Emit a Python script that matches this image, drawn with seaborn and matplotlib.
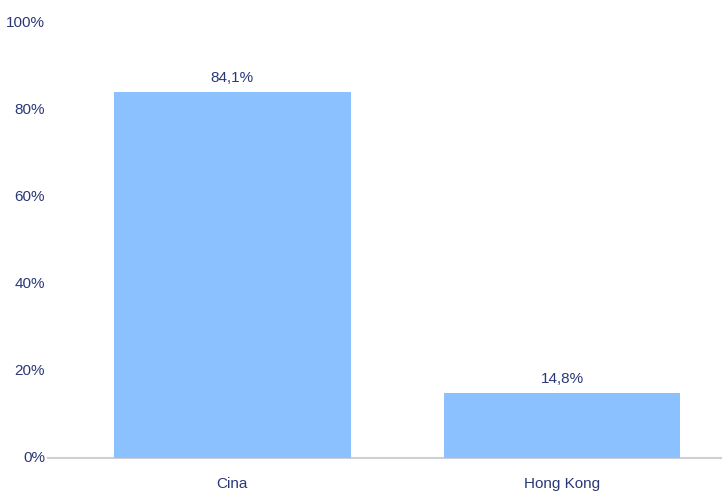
import matplotlib
matplotlib.use("Agg")
import matplotlib.pyplot as plt
import seaborn as sns
import pandas as pd

categories = ["Cina", "Hong Kong"]
values = [84.1, 14.8]
value_labels = ["84,1%", "14,8%"]
yticks = [0, 20, 40, 60, 80, 100]
ytick_labels = ["0%", "20%", "40%", "60%", "80%", "100%"]

sns.set_style("white")
plt.rcParams['font.family'] = ['Liberation Sans', 'DejaVu Sans']

text_color = "#2a3877"
bar_color = "#8cc1ff"

df = pd.DataFrame({"cat": categories, "val": values})

fig = plt.figure(figsize=(7.22, 4.93), dpi=100)
ax = fig.add_axes([48/722, 1-457.5/493, 1-48/722, (457.5-23)/493])

sns.barplot(data=df, x="cat", y="val", color=bar_color, saturation=1,
            width=0.718, ax=ax, edgecolor="none")

ax.set_xlim(-0.558, 1.485)
ax.set_ylim(0, 100)
ax.set_yticks(yticks)
ax.set_yticklabels(ytick_labels)
ax.set_xlabel("")
ax.set_ylabel("")

for s in ["top", "right", "left"]:
    ax.spines[s].set_visible(False)
ax.spines["bottom"].set_color("#ccd0d5")
ax.spines["bottom"].set_linewidth(1.5)
ax.spines["bottom"].set_zorder(0)

ax.tick_params(axis="y", length=0, pad=2, labelsize=11, labelcolor=text_color)
ax.tick_params(axis="x", length=0, pad=14, labelsize=11, labelcolor=text_color)
for lbl in ax.get_yticklabels():
    lbl.set_verticalalignment("center")

for i, (v, t) in enumerate(zip(values, value_labels)):
    ax.annotate(t, (i, v), xytext=(0, 5), textcoords="offset points",
                ha="center", va="bottom", fontsize=11, color=text_color)

ax.grid(False)
fig.savefig("out.png", dpi=100)
